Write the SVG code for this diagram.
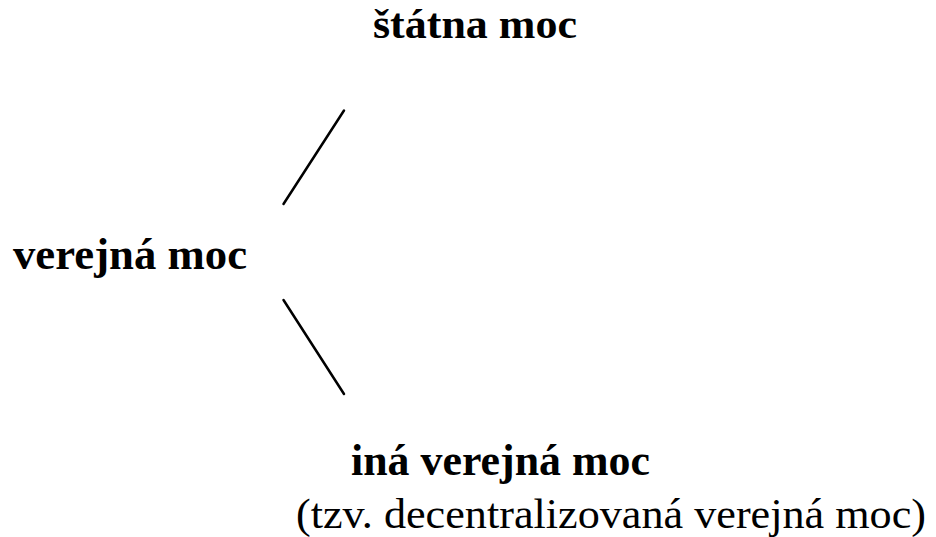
<svg xmlns="http://www.w3.org/2000/svg" width="936" height="537" viewBox="0 0 936 537">
<style>
text{font-family:"Liberation Serif","Times New Roman",serif;font-size:42px;fill:#000}
.b{font-weight:bold;font-size:44px}
.t{font-size:42px}
.c line{stroke:#000;stroke-width:2.5;stroke-linecap:round}
</style>
<rect width="936" height="537" fill="#fff"/>
<g id="statna-moc"><text class="b t" x="373" y="38" textLength="204" lengthAdjust="spacingAndGlyphs">štátna moc</text></g>
<g id="verejna-moc"><text class="b" x="13" y="269" textLength="234" lengthAdjust="spacingAndGlyphs">verejná moc</text></g>
<g id="ina-verejna-moc"><text class="b" x="351" y="475" textLength="299" lengthAdjust="spacingAndGlyphs">iná verejná moc</text>
<text x="296" y="528" textLength="630" lengthAdjust="spacingAndGlyphs">(tzv. decentralizovaná verejná moc)</text></g>
<g id="connectors" class="c">
<line x1="283.5" y1="204" x2="344" y2="110.5"/>
<line x1="283.5" y1="300" x2="344" y2="394"/>
</g>
</svg>
